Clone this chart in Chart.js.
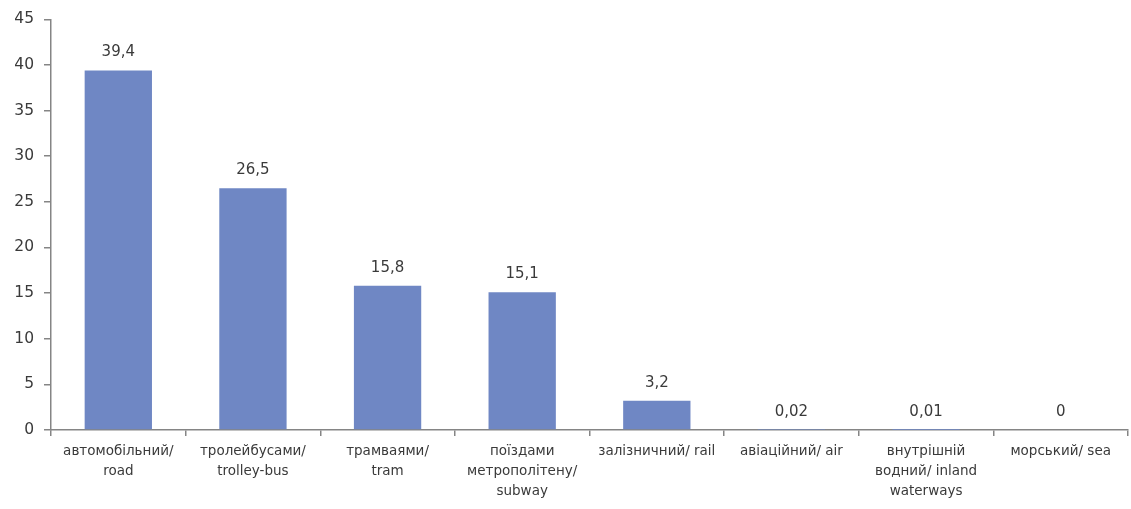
<!DOCTYPE html>
<html>
<head>
<meta charset="utf-8">
<script src="https://cdn.jsdelivr.net/npm/chart.js@4"></script>
<style>
  html, body { margin: 0; padding: 0; background: #ffffff; }
  #wrap { width: 1131px; height: 509px; position: relative; }
</style>
</head>
<body>
<div id="wrap"><canvas id="chart"></canvas></div>
<script>
// Passenger transport by mode, %
const categories = [
  ["автомобільний/", "road"],
  ["тролейбусами/", "trolley-bus"],
  ["трамваями/", "tram"],
  ["поїздами", "метрополітену/", "subway"],
  ["залізничний/ rail"],
  ["авіаційний/ air"],
  ["внутрішній", "водний/ inland", "waterways"],
  ["морський/ sea"]
];
const values = [39.4, 26.5, 15.8, 15.1, 3.2, 0.02, 0.01, 0];
const yMin = 0;
const yMax = 45;
const yStep = 5;

const AXIS = '#858585';
const TEXT = '#3a3a3a';
const FONT = "'DejaVu Sans', sans-serif";

// Writes each bar's value above it, with a decimal comma
const valueLabels = {
  id: 'valueLabels',
  afterDatasetsDraw(chart) {
    const ctx = chart.ctx;
    const meta = chart.getDatasetMeta(0);
    ctx.save();
    ctx.font = "15px " + FONT;
    ctx.fillStyle = TEXT;
    ctx.textAlign = 'center';
    ctx.textBaseline = 'alphabetic';
    meta.data.forEach((bar, i) => {
      const txt = String(values[i]).replace('.', ',');
      ctx.fillText(txt, bar.x, bar.y - 14);
    });
    ctx.restore();
  }
};

new Chart(document.getElementById('chart'), {
  type: 'bar',
  data: {
    labels: categories,
    datasets: [{
      data: values,
      backgroundColor: '#6f87c4',
      borderWidth: 0,
      barPercentage: 0.5,
      categoryPercentage: 1.0
    }]
  },
  options: {
    responsive: true,
    maintainAspectRatio: false,
    animation: false,
    layout: { padding: { top: 15, right: 3, left: 0, bottom: 0 } },
    plugins: {
      legend: { display: false },
      tooltip: { enabled: false }
    },
    scales: {
      x: {
        grid: {
          display: true,
          offset: true,
          drawOnChartArea: false,
          drawTicks: true,
          tickLength: 6,
          color: AXIS,
          lineWidth: 1.5
        },
        border: { display: true, color: AXIS, width: 1.5 },
        ticks: {
          color: TEXT,
          font: { family: FONT, size: 13.5, lineHeight: 1.48 },
          padding: 6,
          maxRotation: 0,
          autoSkip: false
        },
        afterFit(scale) { scale.height = 79; }
      },
      y: {
        min: yMin,
        max: yMax,
        grid: {
          display: true,
          drawOnChartArea: false,
          drawTicks: true,
          tickLength: 7,
          color: AXIS,
          lineWidth: 1.5
        },
        border: { display: true, color: AXIS, width: 1.5 },
        ticks: {
          stepSize: yStep,
          color: TEXT,
          font: { family: FONT, size: 15.5 },
          padding: 10
        },
        afterFit(scale) { scale.width = 51; }
      }
    }
  },
  plugins: [valueLabels]
});
</script>
</body>
</html>
